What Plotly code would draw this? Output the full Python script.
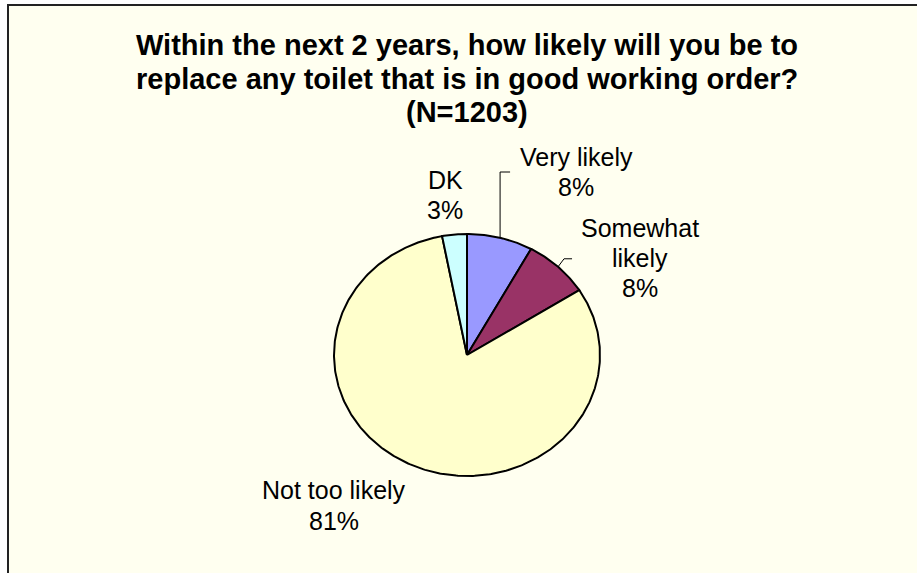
import numpy as np
import plotly.graph_objects as go

# Survey responses (percent of respondents)
categories = ["Very likely", "Somewhat likely", "Not too likely", "DK"]
percents = [8, 8, 81, 3]
label_lines = [["Very likely", "8%"], ["Somewhat", "likely", "8%"], ["Not too likely", "81%"], ["DK", "3%"]]
colors = ["#9999FF", "#993366", "#FFFFCC", "#CCFFFF"]

title_lines = [
    "Within the next 2 years, how likely will you be to",
    "replace any toilet that is in good working order?",
    "(N=1203)",
]

W, H = 917, 573
BG = "#FFFFF0"
FONT = "Liberation Sans, Arial, sans-serif"

# pie geometry in pixels (slightly wider than tall)
cx, cy = 467, 355
rx, ry = 133, 121
K = 1.7  # axis half-range in pie radii, leaves room for leader lines


def px(x, y):
    """pixel (from top-left) -> paper coords"""
    return x / W, 1 - y / H


fig = go.Figure()

# wedges, clockwise from 12 o'clock
total = float(sum(percents))
start = 0.0
for cat, val, col in zip(categories, percents, colors):
    a0 = start / total * 2 * np.pi
    a1 = (start + val) / total * 2 * np.pi
    t = np.linspace(a0, a1, max(10, int(val * 5)))
    xs = np.concatenate([[0], np.sin(t), [0]])
    ys = np.concatenate([[0], np.cos(t), [0]])
    fig.add_trace(go.Scatter(
        x=xs, y=ys, mode="lines", fill="toself", fillcolor=col,
        line=dict(color="#000000", width=2), name=cat, hoverinfo="name",
        showlegend=False,
    ))
    start += val

x0p, _ = px(cx - K * rx, 0)
x1p, _ = px(cx + K * rx, 0)
_, y1p = px(0, cy - K * ry)
_, y0p = px(0, cy + K * ry)

fig.update_xaxes(domain=[x0p, x1p], range=[-K, K], visible=False, fixedrange=True)
fig.update_yaxes(domain=[y0p, y1p], range=[-K, K], visible=False, fixedrange=True)

# chart frame (top and left edges visible)
fig.add_shape(type="rect", xref="paper", yref="paper",
              x0=8 / W, x1=1.02, y0=-0.02, y1=1 - 5 / H,
              fillcolor=BG, line=dict(color="#222222", width=2), layer="below")

# title, one annotation per line
for line, ypix in zip(title_lines, [45, 79, 112]):
    tx, ty = px(467, ypix)
    fig.add_annotation(xref="paper", yref="paper", x=tx, y=ty,
                       text="<b>" + line + "</b>",
                       showarrow=False, xanchor="center", yanchor="middle",
                       font=dict(family=FONT, size=29, color="#000000"))

# data labels
label_pos = {
    "Very likely": (576, [157, 187]),
    "Somewhat likely": (640, [228, 258, 288]),
    "Not too likely": (334, [490, 521]),
    "DK": (445, [180, 210]),
}
for cat, lines in zip(categories, label_lines):
    lxp, lys = label_pos[cat]
    for txt, lyp in zip(lines, lys):
        lx, ly = px(lxp, lyp)
        fig.add_annotation(xref="paper", yref="paper", x=lx, y=ly, text=txt,
                           showarrow=False, xanchor="center", yanchor="middle",
                           font=dict(family=FONT, size=25, color="#000000"))


# leader lines for the two small labelled wedges, starting at each wedge's mid-angle
def edge_point(frac):
    a = frac * 2 * np.pi
    return np.sin(a), np.cos(a)


cum = np.cumsum([0] + percents) / total
ex, ey = edge_point((cum[0] + cum[1]) / 2)
top = (cy - 172) / ry
fig.add_trace(go.Scatter(x=[ex, ex, ex + 10 / rx], y=[ey, top, top],
                         mode="lines", line=dict(color="#000000", width=1),
                         hoverinfo="skip", showlegend=False))
ex2, ey2 = edge_point((cum[1] + cum[2]) / 2)
fig.add_trace(go.Scatter(x=[ex2, ex2 + 6 / rx, ex2 + 14 / rx],
                         y=[ey2, ey2 + 8 / ry, ey2 + 8 / ry],
                         mode="lines", line=dict(color="#000000", width=1),
                         hoverinfo="skip", showlegend=False))

fig.update_layout(
    width=W, height=H,
    margin=dict(l=0, r=0, t=0, b=0),
    paper_bgcolor="#FFFFFF",
    plot_bgcolor="rgba(0,0,0,0)",
    showlegend=False,
)

fig.write_html("out.html")
